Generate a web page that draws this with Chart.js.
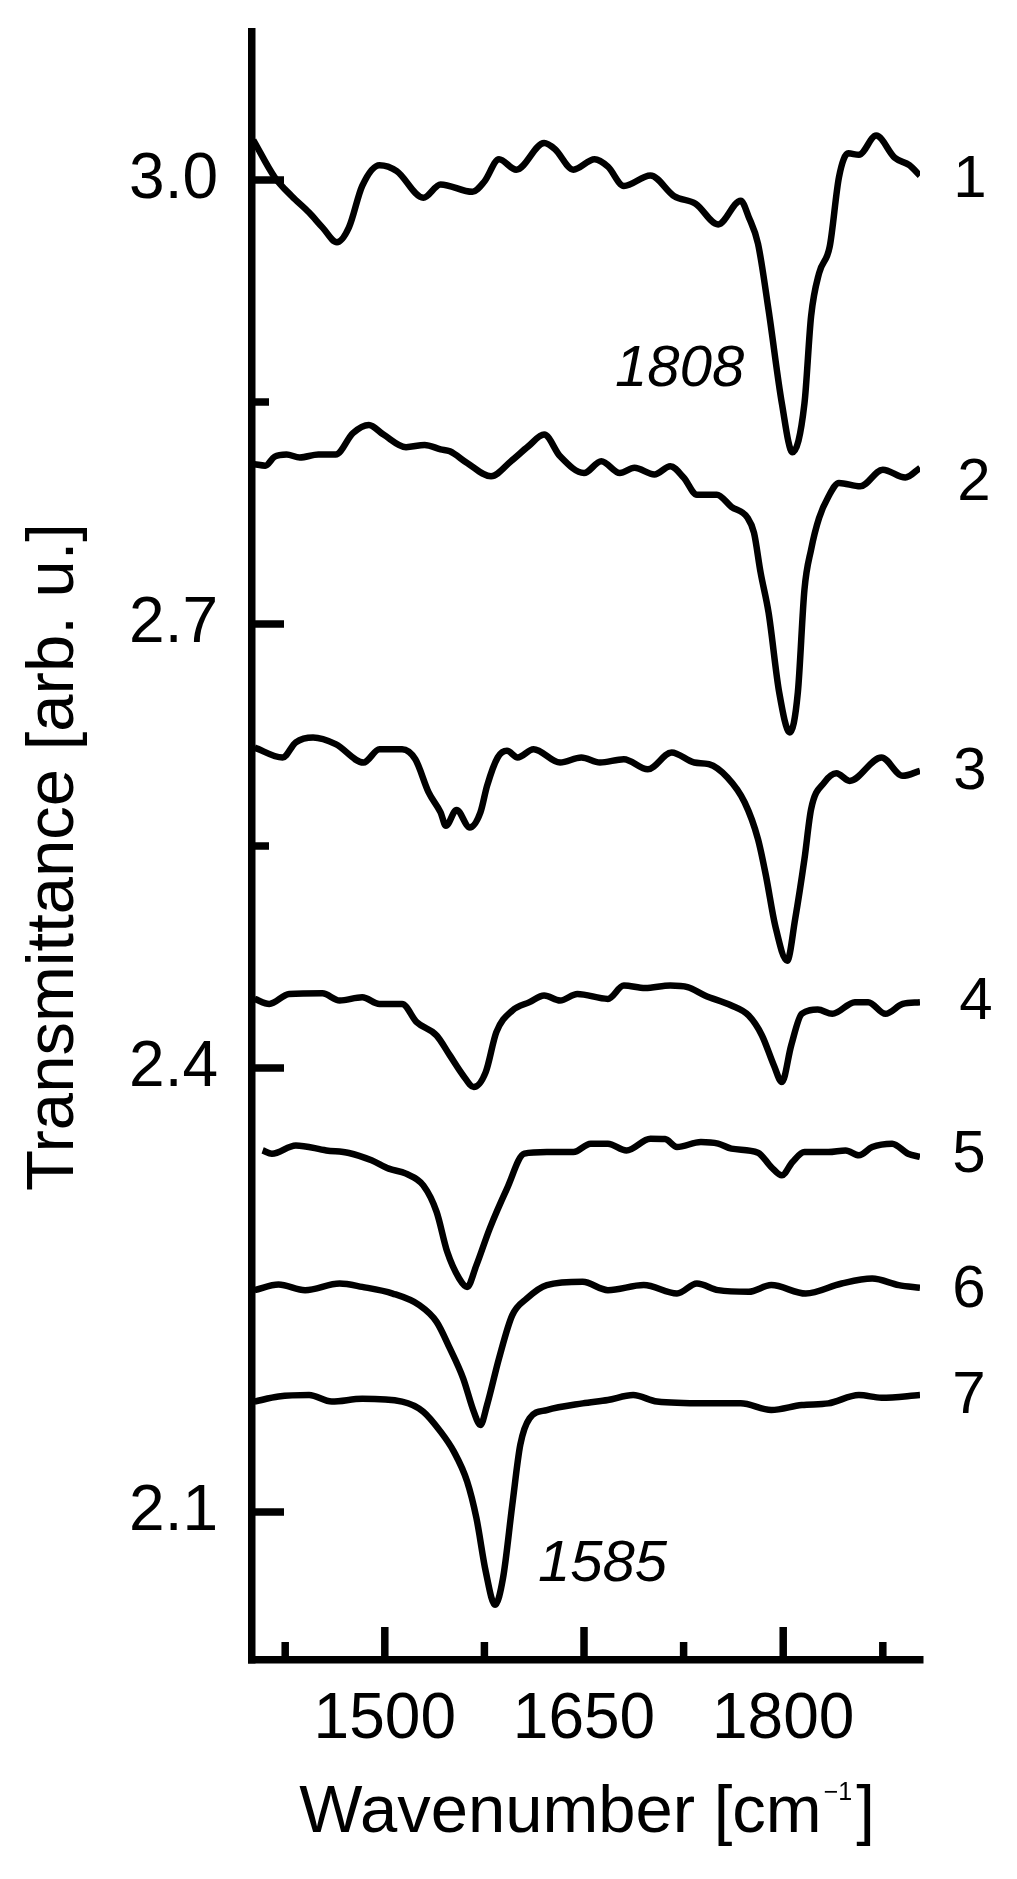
<!DOCTYPE html>
<html>
<head>
<meta charset="utf-8">
<title>IR spectra</title>
<script src="https://cdn.jsdelivr.net/npm/chart.js@4.4.1/dist/chart.umd.min.js"></script>
<style>
    html, body { margin: 0; padding: 0; background: #fff; }
    canvas { display: block; }
</style>
</head>
<body>
<canvas id="spectraChart" width="1017" height="1879"></canvas>
<script>
// --- Data ---
const wn1 = [1401, 1417, 1430, 1443, 1453, 1464, 1473, 1483, 1496, 1509, 1529, 1542, 1566, 1575, 1586, 1599, 1620, 1628, 1642, 1658, 1668, 1680, 1700, 1718, 1734, 1751, 1768, 1774, 1781, 1789, 1799, 1807, 1816, 1821, 1827, 1835, 1842, 1849, 1857, 1870, 1884, 1895, 1903];
const tr1 = [3.027, 3.002, 2.989, 2.978, 2.968, 2.958, 2.968, 2.996, 3.010, 3.006, 2.988, 2.997, 2.992, 2.999, 3.014, 3.007, 3.025, 3.021, 3.007, 3.014, 3.009, 2.996, 3.003, 2.989, 2.984, 2.970, 2.986, 2.975, 2.957, 2.912, 2.849, 2.816, 2.849, 2.908, 2.937, 2.955, 3.002, 3.018, 3.017, 3.030, 3.015, 3.010, 3.003];

const wn2 = [1402, 1410, 1417, 1426, 1436, 1450, 1463, 1476, 1488, 1499, 1516, 1530, 1542, 1549, 1562, 1580, 1595, 1608, 1620, 1632, 1650, 1663, 1677, 1688, 1703, 1715, 1725, 1735, 1750, 1761, 1773, 1778, 1783, 1789, 1797, 1805, 1811, 1816, 1821, 1827, 1834, 1842, 1858, 1875, 1892, 1903];
const tr2 = [2.808, 2.807, 2.813, 2.8145, 2.8125, 2.8145, 2.8145, 2.829, 2.8345, 2.828, 2.8195, 2.821, 2.818, 2.8167, 2.8088, 2.7998, 2.810, 2.820, 2.828, 2.8133, 2.802, 2.810, 2.802, 2.8055, 2.801, 2.8066, 2.799, 2.7874, 2.7874, 2.7792, 2.772, 2.7616, 2.7346, 2.7076, 2.6536, 2.6267, 2.6536, 2.7233, 2.7503, 2.7716, 2.786, 2.7953, 2.793, 2.8043, 2.799, 2.8055];

const wn3 = [1402, 1423, 1433, 1446, 1463, 1484, 1496, 1513, 1523, 1533, 1542, 1546, 1554, 1564, 1572, 1577, 1585, 1592, 1600, 1612, 1632, 1648, 1662, 1680, 1698, 1716, 1733, 1744, 1758, 1771, 1781, 1787, 1794, 1803, 1809, 1816, 1821, 1831, 1840, 1850, 1874, 1890, 1903];
const tr3 = [2.6165, 2.6098, 2.620, 2.6233, 2.6188, 2.6064, 2.6154, 2.6154, 2.6086, 2.5862, 2.5727, 2.5636, 2.5744, 2.5625, 2.5727, 2.5906, 2.6098, 2.6143, 2.6098, 2.6154, 2.6064, 2.6098, 2.6064, 2.6086, 2.6018, 2.6132, 2.6064, 2.6053, 2.5963, 2.5794, 2.5547, 2.5299, 2.4961, 2.4725, 2.5007, 2.5412, 2.5749, 2.593, 2.5992, 2.594, 2.6098, 2.5974, 2.6008];

const wn4 = [1402, 1413, 1428, 1453, 1466, 1483, 1496, 1513, 1524, 1539, 1549, 1559, 1567, 1576, 1584, 1596, 1609, 1620, 1632, 1645, 1668, 1680, 1696, 1715, 1728, 1741, 1761, 1774, 1784, 1793, 1799, 1806, 1814, 1826, 1837, 1854, 1864, 1877, 1890, 1903];
const tr4 = [2.4467, 2.4433, 2.450, 2.4505, 2.4456, 2.4478, 2.4433, 2.4433, 2.431, 2.422, 2.4085, 2.395, 2.3871, 2.3972, 2.4242, 2.4388, 2.4445, 2.449, 2.4456, 2.450, 2.4467, 2.4557, 2.454, 2.4557, 2.4546, 2.449, 2.4422, 2.4354, 2.422, 2.4017, 2.3905, 2.4152, 2.4366, 2.4395, 2.4366, 2.4445, 2.4445, 2.4366, 2.4433, 2.4445];

const wn5 = [1408, 1415, 1433, 1456, 1473, 1490, 1503, 1516, 1529, 1539, 1547, 1556, 1562, 1569, 1579, 1592, 1605, 1622, 1642, 1655, 1668, 1682, 1700, 1711, 1720, 1738, 1751, 1761, 1781, 1791, 1799, 1807, 1816, 1834, 1847, 1857, 1867, 1882, 1894, 1903];
const tr5 = [2.3443, 2.3421, 2.3477, 2.3443, 2.3426, 2.3376, 2.332, 2.3286, 2.3207, 2.3028, 2.2758, 2.2578, 2.2521, 2.2668, 2.2915, 2.3185, 2.3421, 2.3432, 2.3432, 2.3489, 2.3489, 2.3443, 2.3522, 2.352, 2.3466, 2.3500, 2.3489, 2.3455, 2.3428, 2.3331, 2.3275, 2.3365, 2.3432, 2.3432, 2.3443, 2.341, 2.3466, 2.3489, 2.3421, 2.3399];

const wn6 = [1402, 1420, 1440, 1466, 1483, 1506, 1526, 1539, 1549, 1559, 1567, 1572, 1577, 1586, 1596, 1607, 1622, 1649, 1668, 1695, 1720, 1735, 1751, 1774, 1791, 1817, 1844, 1867, 1887, 1903];
const tr6 = [2.2499, 2.2537, 2.2499, 2.2544, 2.2521, 2.2476, 2.2398, 2.2285, 2.2105, 2.1903, 2.1678, 2.1588, 2.1723, 2.2038, 2.2330, 2.2443, 2.2533, 2.2555, 2.2499, 2.2533, 2.2476, 2.2544, 2.2499, 2.2488, 2.2533, 2.2476, 2.2544, 2.2577, 2.2533, 2.2515];

const wn7 = [1402, 1420, 1443, 1460, 1483, 1513, 1529, 1542, 1552, 1562, 1569, 1576, 1583, 1589, 1596, 1602, 1609, 1622, 1649, 1668, 1687, 1705, 1741, 1768, 1791, 1814, 1834, 1857, 1874, 1903];
const tr7 = [2.1746, 2.178, 2.179, 2.1746, 2.1765, 2.1746, 2.1678, 2.1543, 2.1408, 2.1206, 2.0958, 2.0598, 2.0373, 2.0553, 2.1048, 2.1453, 2.1633, 2.1689, 2.1734, 2.1757, 2.179, 2.1746, 2.1734, 2.1734, 2.1689, 2.1723, 2.1734, 2.179, 2.1772, 2.179];

const seriesNames = ['1', '2', '3', '4', '5', '6', '7'];
const seriesLabelLevels = [3.0, 2.795, 2.6, 2.444, 2.341, 2.25, 2.178];

const yMajorTicks = [2.1, 2.4, 2.7, 3.0];
const yMinorTicks = [2.55, 2.85];
const xMajorTicks = [1500, 1650, 1800];
const xMinorTicks = [1425, 1575, 1725, 1875];

const peakNames = ['1808', '1585'];
const peakLabelX = [1722, 1664];
const peakLabelY = [2.872, 2.064];

const FONT = "'Liberation Sans', Arial, sans-serif";

// --- Datasets ---
const spectra = [[wn1, tr1], [wn2, tr2], [wn3, tr3], [wn4, tr4], [wn5, tr5], [wn6, tr6], [wn7, tr7]];
const datasets = spectra.map(([wn, tr], i) => ({
    label: seriesNames[i],
    data: wn.map((w, j) => ({ x: w, y: tr[j] })),
    borderColor: '#000',
    borderWidth: 6.5,
    borderJoinStyle: 'round',
    pointRadius: 0,
    cubicInterpolationMode: 'monotone',
    fill: false
}));

// --- Inner ticks, axis titles and annotations ---
const decorPlugin = {
    id: 'decor',
    afterDraw(chart) {
        const { ctx, chartArea: area, scales: { x, y } } = chart;
        ctx.save();
        ctx.strokeStyle = '#000';
        ctx.fillStyle = '#000';
        ctx.lineWidth = 7.5;
        ctx.lineCap = 'butt';

        const line = (x1, y1, x2, y2) => {
            ctx.beginPath();
            ctx.moveTo(x1, y1);
            ctx.lineTo(x2, y2);
            ctx.stroke();
        };
        yMajorTicks.forEach(v => { const p = y.getPixelForValue(v); line(area.left, p, area.left + 32, p); });
        yMinorTicks.forEach(v => { const p = y.getPixelForValue(v); line(area.left, p, area.left + 17, p); });
        xMajorTicks.forEach(v => { const p = x.getPixelForValue(v); line(p, area.bottom, p, area.bottom - 33); });
        xMinorTicks.forEach(v => { const p = x.getPixelForValue(v); line(p, area.bottom, p, area.bottom - 18); });

        // series numbers at the right end
        const labelShift = [50, 54, 50, 56, 49, 49, 49];
        ctx.font = `60px ${FONT}`;
        ctx.textAlign = 'center';
        ctx.textBaseline = 'middle';
        seriesNames.forEach((name, i) => {
            ctx.fillText(name, area.right + labelShift[i], y.getPixelForValue(seriesLabelLevels[i]));
        });

        // peak positions
        ctx.font = `italic 58px ${FONT}`;
        peakNames.forEach((name, i) => {
            ctx.fillText(name, x.getPixelForValue(peakLabelX[i]), y.getPixelForValue(peakLabelY[i]));
        });

        // y title
        ctx.save();
        ctx.font = `67px ${FONT}`;
        ctx.translate(55, (area.top + area.bottom) / 2 + 11);
        ctx.rotate(-Math.PI / 2);
        ctx.fillText('Transmittance [arb. u.]', 0, 0);
        ctx.restore();

        // x title with superscript
        const mainFont = `67px ${FONT}`;
        const supFont = `25px ${FONT}`;
        const partA = 'Wavenumber [cm';
        const partSup = '\u22121';
        const partB = ']';
        ctx.textAlign = 'left';
        ctx.textBaseline = 'alphabetic';
        ctx.font = mainFont;
        const wA = ctx.measureText(partA).width;
        const wB = ctx.measureText(partB).width;
        ctx.font = supFont;
        const wSup = ctx.measureText(partSup).width + 4;
        const baseY = 1832;
        let cx = (area.left + area.right) / 2 - (wA + wSup + wB) / 2;
        ctx.font = mainFont;
        ctx.fillText(partA, cx, baseY);
        cx += wA + 2;
        ctx.font = supFont;
        ctx.fillText(partSup, cx, baseY - 32);
        cx += wSup;
        ctx.font = mainFont;
        ctx.fillText(partB, cx, baseY);

        ctx.restore();
    }
};

// --- Chart setup ---
const ctx = document.getElementById('spectraChart').getContext('2d');
const chart = new Chart(ctx, {
    type: 'line',
    data: { datasets },
    options: {
        responsive: false,
        animation: false,
        devicePixelRatio: 1,
        layout: { padding: { top: 32, right: 97, bottom: 0, left: 0 } },
        plugins: {
            legend: { display: false },
            tooltip: { enabled: false }
        },
        scales: {
            x: {
                type: 'linear',
                min: 1400,
                max: 1903,
                grid: { display: true, drawOnChartArea: false, drawTicks: false, lineWidth: 7.5 },
                border: { display: true, width: 7.5, color: '#000' },
                afterBuildTicks: scale => {
                    scale.ticks = xMajorTicks.map(v => ({ value: v }));
                },
                afterFit: scale => {
                    scale.height = 219;
                    scale.paddingLeft = 0;
                    scale.paddingRight = 0;
                },
                ticks: {
                    color: '#000',
                    padding: 22,
                    maxRotation: 0,
                    autoSkip: false,
                    font: { family: FONT, size: 64 },
                    callback: v => String(v)
                }
            },
            y: {
                type: 'linear',
                min: 2.0,
                max: 3.1,
                grid: { display: true, drawOnChartArea: false, drawTicks: false, lineWidth: 7.5 },
                border: { display: true, width: 7.5, color: '#000' },
                afterBuildTicks: scale => {
                    scale.ticks = yMajorTicks.map(v => ({ value: v }));
                },
                afterFit: scale => {
                    scale.width = 252;
                    scale.paddingTop = 0;
                    scale.paddingBottom = 0;
                },
                ticks: {
                    color: '#000',
                    padding: 34,
                    autoSkip: false,
                    font: { family: FONT, size: 64 },
                    callback: v => v.toFixed(1)
                }
            }
        }
    },
    plugins: [decorPlugin]
});
</script>
</body>
</html>
